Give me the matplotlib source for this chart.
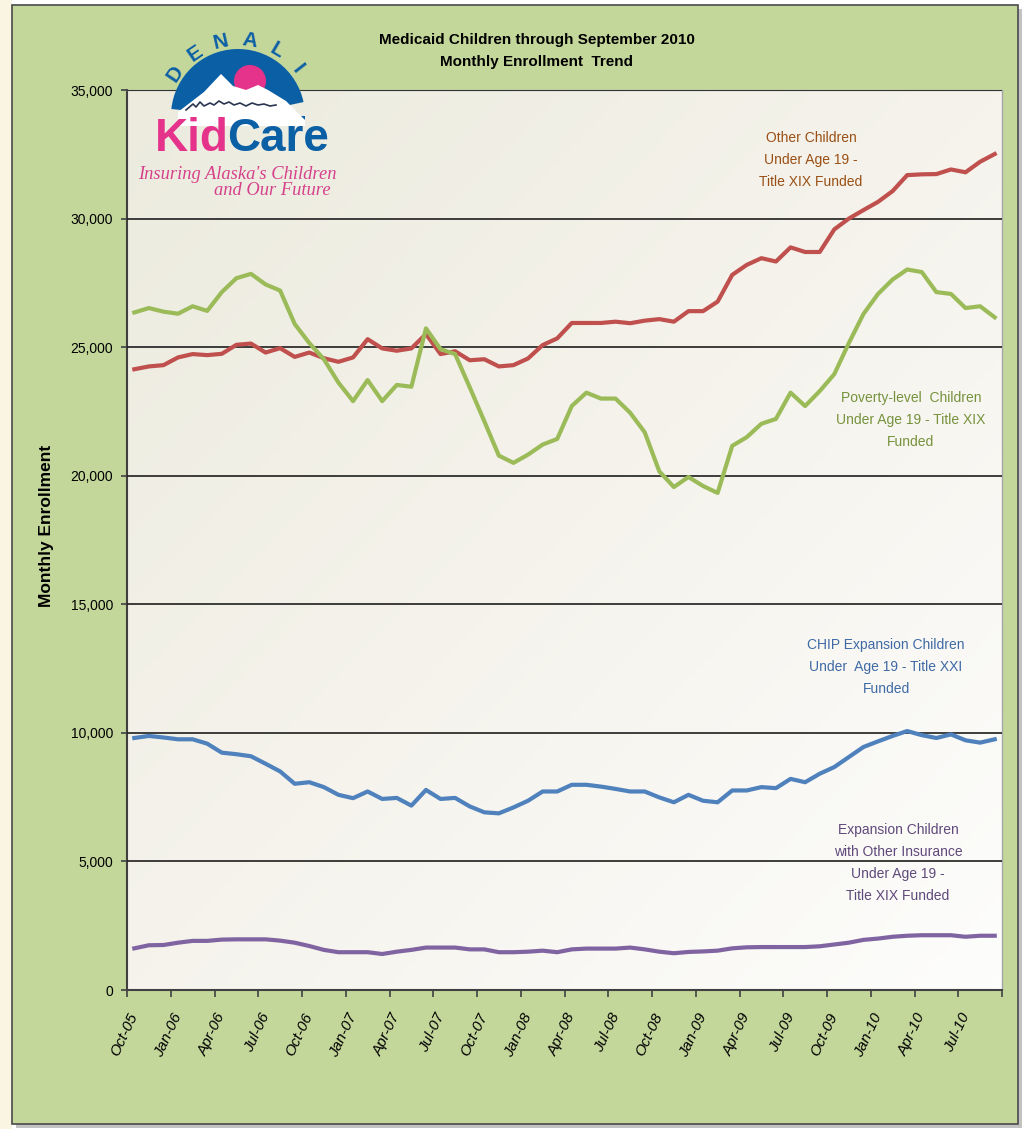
import numpy as np
import pandas as pd
import matplotlib
matplotlib.use('Agg')
import matplotlib.pyplot as plt
from matplotlib.patches import Rectangle, Circle, Wedge, Polygon
from matplotlib.colors import LinearSegmentedColormap

# 数据：2005年10月 ~ 2010年9月 每月参保人数
months = pd.date_range('2005-10-01', periods=60, freq='MS')
month_labels = [d.strftime('%b-%y') for d in months]

other_children = [24140, 24250, 24300, 24600, 24730, 24690, 24740, 25090, 25140, 24790,
                  24960, 24620, 24790, 24570, 24430, 24600, 25310, 24950, 24860, 24950,
                  25510, 24730, 24840, 24490, 24530, 24250, 24300, 24560, 25080, 25340,
                  25940, 25940, 25940, 25990, 25930, 26030, 26090, 25990, 26400, 26400,
                  26770, 27810, 28200, 28460, 28330, 28880, 28700, 28700, 29580, 30000,
                  30330, 30650, 31070, 31690, 31720, 31730, 31910, 31800, 32210, 32510]
poverty_level = [26350, 26520, 26380, 26300, 26590, 26410, 27140, 27680, 27850, 27440,
                 27200, 25900, 25160, 24530, 23620, 22900, 23720, 22900, 23530, 23460,
                 25730, 24920, 24730, 23440, 22120, 20780, 20500, 20820, 21210, 21430,
                 22710, 23230, 23000, 23000, 22450, 21690, 20170, 19560, 19950, 19600,
                 19330, 21160, 21500, 22020, 22210, 23230, 22710, 23290, 23950, 25160,
                 26290, 27070, 27630, 28020, 27920, 27140, 27070, 26520, 26590, 26160]
chip_expansion = [9800, 9880, 9820, 9750, 9750, 9580, 9230, 9170, 9090, 8800,
                  8500, 8020, 8080, 7890, 7590, 7460, 7720, 7430, 7470, 7170,
                  7780, 7430, 7470, 7140, 6910, 6870, 7100, 7360, 7720, 7720,
                  7980, 7980, 7910, 7820, 7720, 7720, 7490, 7300, 7590, 7360,
                  7300, 7760, 7760, 7890, 7850, 8210, 8080, 8410, 8670, 9060,
                  9450, 9670, 9880, 10070, 9910, 9800, 9940, 9710, 9620, 9750]
expansion_other_ins = [1620, 1740, 1750, 1840, 1910, 1910, 1960, 1970, 1970, 1970,
                       1920, 1840, 1710, 1560, 1470, 1470, 1470, 1400, 1490, 1560,
                       1650, 1650, 1650, 1580, 1580, 1470, 1470, 1490, 1530, 1470,
                       1580, 1610, 1610, 1610, 1650, 1580, 1490, 1430, 1480, 1500,
                       1530, 1620, 1660, 1670, 1670, 1670, 1670, 1700, 1770, 1840,
                       1950, 2000, 2070, 2110, 2130, 2130, 2130, 2070, 2110, 2110]

W, H = 1030, 1129
plt.rcParams['font.family'] = ['Liberation Sans', 'DejaVu Sans']


def fx(px):
    return px / W


def fy(py):
    return 1 - py / H


fig = plt.figure(figsize=(W / 100, H / 100), dpi=100, facecolor='white')

# 外框：左侧米色条、阴影、绿色面板
fig.add_artist(Rectangle((0, 0), fx(12), 1, transform=fig.transFigure,
                         facecolor='#faf4e2', edgecolor='none', zorder=0))
fig.add_artist(Rectangle((fx(16), fy(1128)), fx(1022) - fx(16), fy(9) - fy(1128),
                         transform=fig.transFigure, facecolor='#9a9a9a',
                         edgecolor='none', alpha=0.6, zorder=0))
fig.add_artist(Rectangle((fx(12), fy(1124)), fx(1018) - fx(12), fy(5) - fy(1124),
                         transform=fig.transFigure, facecolor='#c4d79b',
                         edgecolor='#4a4a4a', linewidth=1.2, zorder=0))

rect = [fx(127), fy(990), fx(1002) - fx(127), fy(90) - fy(990)]

# 绘图区渐变背景
bg = fig.add_axes(rect, zorder=1)
n = 200
grad = (np.linspace(0, 1, n)[:, None] + np.linspace(0, 1, n)[None, :]) / 2
cmap = LinearSegmentedColormap.from_list('bg', ['#ecebde', '#f5f3ec', '#fdfdfc'])
bg.imshow(grad, cmap=cmap, aspect='auto', extent=[0, 1, 0, 1])
bg.set_axis_off()

ax = fig.add_axes(rect, zorder=2)
ax.patch.set_alpha(0)

x = np.arange(len(months))
ax.plot(x, other_children, color='#c0504d', linewidth=3, solid_joinstyle='round', zorder=5)
ax.plot(x, poverty_level, color='#9bbb59', linewidth=3, solid_joinstyle='round', zorder=5)
ax.plot(x, chip_expansion, color='#4f81bd', linewidth=3, solid_joinstyle='round', zorder=5)
ax.plot(x, expansion_other_ins, color='#8064a2', linewidth=3, solid_joinstyle='round', zorder=5)

ax.set_xlim(-0.5, len(months) - 0.5)
ax.set_ylim(0, 35000)

# 网格线
for v in range(5000, 35001, 5000):
    ax.axhline(v, color='#1e1e1e', linewidth=1.2, zorder=3)

ax.set_yticks(range(0, 35001, 5000))
ax.set_yticklabels([f'{v:,}' for v in range(0, 35001, 5000)])
ax.tick_params(axis='y', length=4, width=1.2, color='#404040', pad=6, labelsize=10)

ax.set_xticks(x[::3])
ax.set_xticklabels(month_labels[::3], rotation=65, ha='right', rotation_mode='anchor',
                   va='center', fontstyle='italic', fontsize=11)
ax.set_xticks(np.arange(-0.5, len(months), 3), minor=True)
ax.tick_params(axis='x', which='major', length=0, pad=17)
ax.tick_params(axis='x', which='minor', length=5, width=1.2, color='#404040')

for side in ['left', 'bottom']:
    ax.spines[side].set_color('#404040')
    ax.spines[side].set_linewidth(1.5)
for side in ['top', 'right']:
    ax.spines[side].set_color('#a6a6a6')
    ax.spines[side].set_linewidth(1)

# 标题与坐标轴标题
fig.text(fx(537), fy(51), 'Medicaid Children through September 2010\nMonthly Enrollment  Trend',
         ha='center', va='center', fontsize=11, fontweight='bold', linespacing=1.75)
fig.text(fx(47), fy(526), 'Monthly Enrollment', rotation=90, ha='center', va='center',
         fontsize=12.5, fontweight='bold')

# 系列标注
lab_kw = dict(ha='center', va='center', fontsize=10, linespacing=1.75)
fig.text(fx(811), fy(160), 'Other Children\nUnder Age 19 -\nTitle XIX Funded',
         color='#9a4f14', **lab_kw)
fig.text(fx(911), fy(420), 'Poverty-level  Children\nUnder Age 19 - Title XIX\nFunded',
         color='#76923c', **lab_kw)
fig.text(fx(886), fy(667), 'CHIP Expansion Children\nUnder  Age 19 - Title XXI\nFunded',
         color='#3f6aa6', **lab_kw)
fig.text(fx(898), fy(863), 'Expansion Children\nwith Other Insurance\nUnder Age 19 -\nTitle XIX Funded',
         color='#5f497a', **lab_kw)

# DENALI KidCare 标志（像素坐标）
lax = fig.add_axes([fx(130), fy(210), fx(340) - fx(130), fy(15) - fy(210)], zorder=6)
lax.set_xlim(130, 340)
lax.set_ylim(210, 15)
lax.set_axis_off()
blue = '#0b5fa5'
pink = '#e5338b'
lax.add_patch(Wedge((238, 116), 67, 180 + 6, 360 - 12, facecolor=blue, edgecolor='none'))
lax.add_patch(Wedge((238, 116), 67, 0, 6, facecolor=blue, edgecolor='none'))
lax.add_patch(Circle((250, 81), 16, facecolor=pink, edgecolor='none'))
lax.add_patch(Polygon([(178, 112), (204, 92), (221, 74), (233, 86), (246, 90), (258, 85),
                       (268, 90), (286, 101), (305, 120), (305, 126), (178, 126)],
                      closed=True, facecolor='white', edgecolor='none'))
lax.plot([186, 193, 196, 200, 204, 210, 214, 219, 224, 229, 234, 240, 246, 252, 258, 264, 270, 276],
         [110, 104, 107, 102, 106, 103, 105, 101, 104, 102, 105, 103, 106, 103, 105, 104, 106, 105],
         color='#2a3550', linewidth=1.2)
for ch, ang in zip('DENALI', np.linspace(146, 38, 6)):
    r = 76
    a = np.deg2rad(ang)
    lax.text(238 + r * np.cos(a), 116 - r * np.sin(a), ch, rotation=ang - 90,
             ha='center', va='center', fontsize=15, fontweight='bold', color=blue)
lax.text(229, 151, 'Kid', ha='right', va='baseline', fontsize=33, fontweight='bold', color=pink)
lax.text(227, 151, 'Care', ha='left', va='baseline', fontsize=33, fontweight='bold', color=blue)
lax.text(237, 179, "Insuring Alaska's Children", ha='center', va='baseline', fontsize=13.3,
         fontstyle='italic', color='#d6418b', family=['Liberation Serif', 'DejaVu Serif'])
lax.text(272, 195, 'and Our Future', ha='center', va='baseline', fontsize=13.3,
         fontstyle='italic', color='#d6418b', family=['Liberation Serif', 'DejaVu Serif'])

plt.savefig('out.png', dpi=100, facecolor=fig.get_facecolor())
